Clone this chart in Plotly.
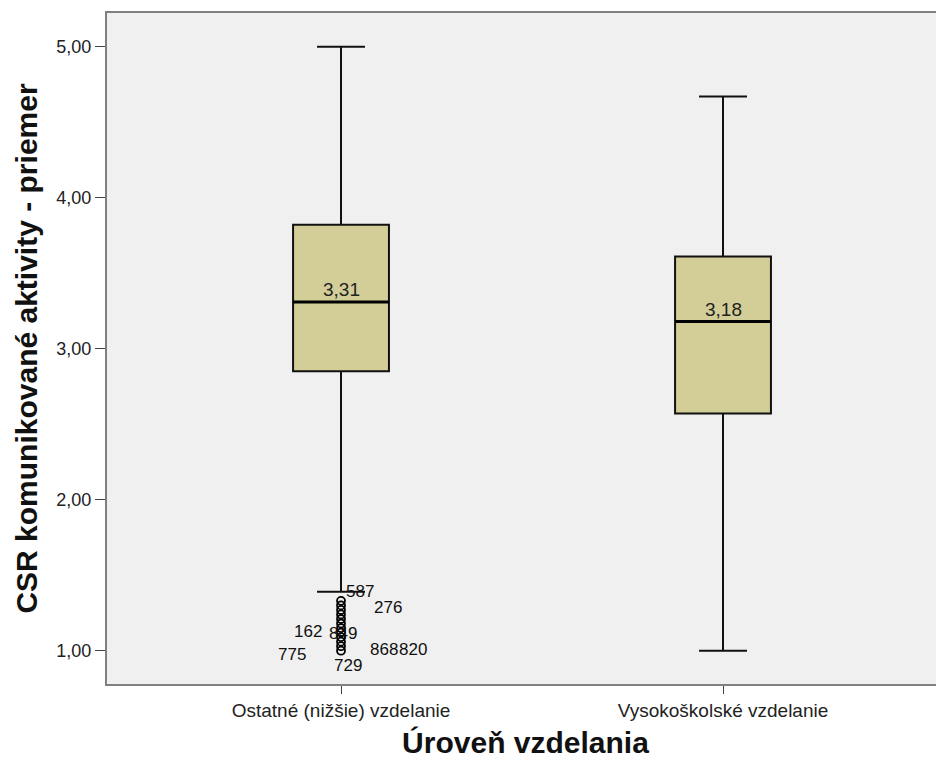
import plotly.graph_objects as go

categories = ["Ostatné (nižšie) vzdelanie", "Vysokoškolské vzdelanie"]
cat_pos = [0, 1]
q1 = [2.85, 2.57]
median = [3.31, 3.18]
q3 = [3.82, 3.61]
lower_whisker = [1.39, 1.00]
upper_whisker = [5.00, 4.67]

outlier_values = [1.33, 1.30, 1.27, 1.24, 1.21, 1.18, 1.15, 1.12, 1.09, 1.06, 1.03, 1.00]
outlier_ids = ["587", "276", "162", "849", "775", "729", "868", "820"]
label_dx = [0.05, 0.123, -0.086, 0.005, -0.128, 0.018, 0.113, 0.188]
label_y = [1.389, 1.289, 1.124, 1.117, 0.978, 0.899, 1.005, 1.005]

y_ticks = [1, 2, 3, 4, 5]
y_ticktext = ["1,00", "2,00", "3,00", "4,00", "5,00"]

BOX_W = 0.251
FONT = "Liberation Sans, Arial, sans-serif"

fig = go.Figure()
fig.add_trace(go.Box(
    x=cat_pos, q1=q1, median=median, q3=q3,
    lowerfence=lower_whisker, upperfence=upper_whisker,
    width=BOX_W, whiskerwidth=0.5,
    fillcolor="#D3CE97", line=dict(color="#111111", width=2),
    boxpoints=False, showlegend=False, hoverinfo="skip",
))
# thicker median lines
for xp, m in zip(cat_pos, median):
    fig.add_trace(go.Scatter(
        x=[xp - BOX_W / 2, xp + BOX_W / 2], y=[m, m], mode="lines",
        line=dict(color="black", width=3), showlegend=False, hoverinfo="skip"))
# outliers
fig.add_trace(go.Scatter(
    x=[cat_pos[0]] * len(outlier_values), y=outlier_values, mode="markers",
    marker=dict(symbol="circle-open", size=8, color="black", line=dict(width=1.8)),
    showlegend=False, hoverinfo="skip"))

annotations = []
for xp, m in zip(cat_pos, median):
    annotations.append(dict(x=xp, y=m, text=f"{m:.2f}".replace(".", ","), showarrow=False,
                            yanchor="bottom", yshift=0, font=dict(family=FONT, size=19, color="#222")))
for lid, dx, ly in zip(outlier_ids, label_dx, label_y):
    annotations.append(dict(x=cat_pos[0] + dx, y=ly, text=lid, showarrow=False,
                            font=dict(family=FONT, size=17, color="#111")))

fig.update_layout(
    width=936, height=751,
    margin=dict(l=99, r=0, t=5, b=75),
    paper_bgcolor="white", plot_bgcolor="#F0F0F0",
    font=dict(family=FONT, color="#222"),
    annotations=annotations,
    xaxis=dict(
        range=[-0.6126, 1.5785], tickvals=cat_pos, ticktext=categories,
        showgrid=False, zeroline=False, showline=True, mirror=True,
        linecolor="#808080", linewidth=2, ticks="outside", ticklen=8,
        tickcolor="#444", tickfont=dict(size=19, color="#222"),
        title=dict(text="<b>Úroveň vzdelania</b>", font=dict(size=30, color="#111"), standoff=12),
    ),
    yaxis=dict(
        range=[0.7795, 5.223], tickvals=y_ticks, ticktext=y_ticktext,
        showgrid=False, zeroline=False, showline=True, linecolor="#808080", linewidth=2,
        ticks="outside", ticklen=10, tickcolor="#444", tickfont=dict(size=18, color="#222"),
        title=dict(text="<b>CSR komunikované aktivity - priemer</b>", font=dict(size=30, color="#111"), standoff=10),
    ),
)
fig.write_html("out.html")
